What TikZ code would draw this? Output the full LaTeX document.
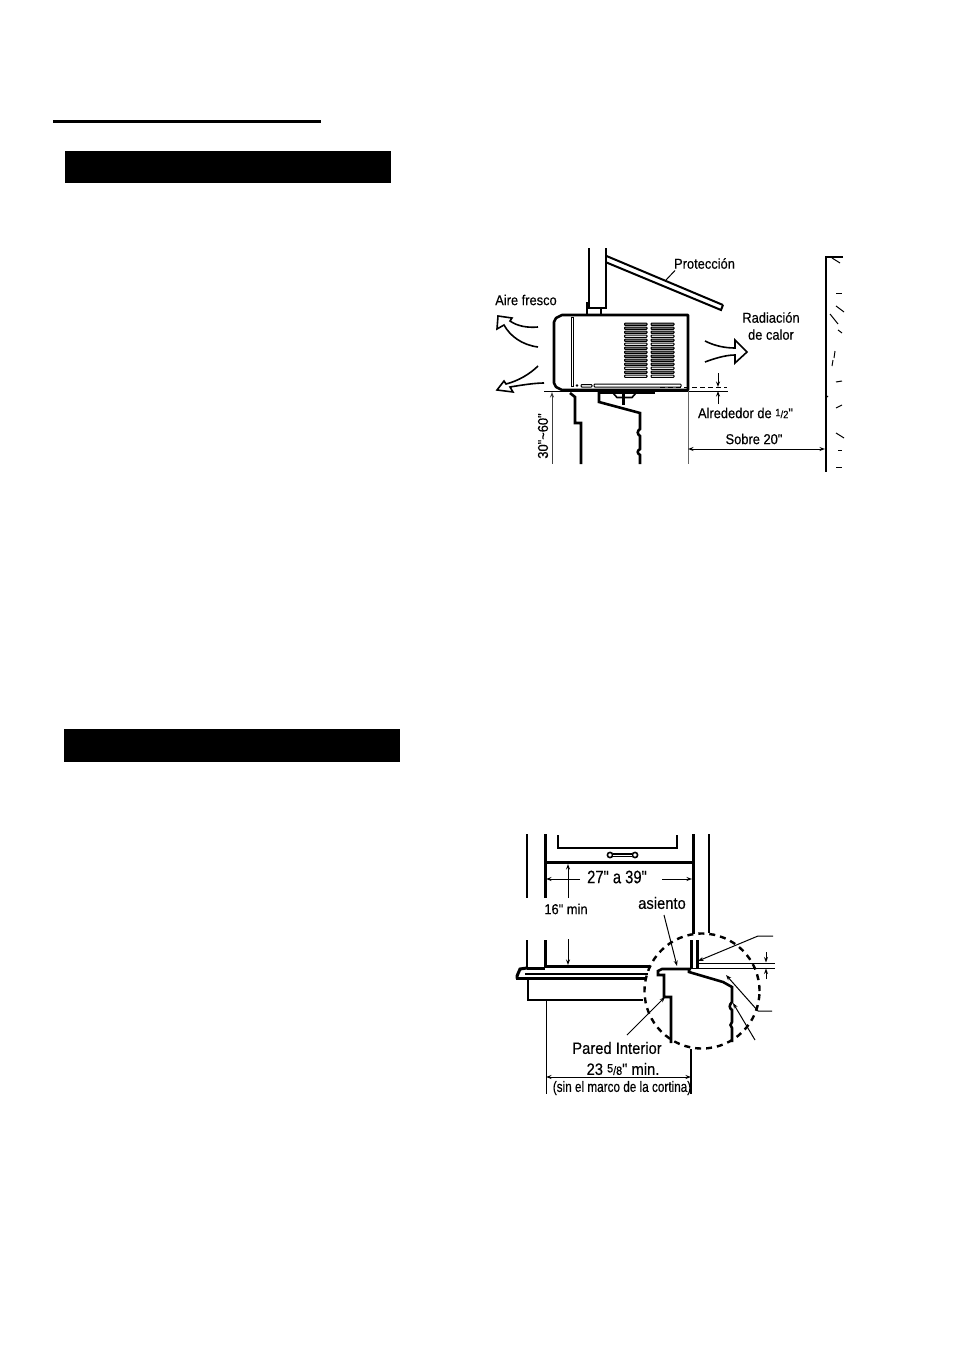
\documentclass[tikz,border=0pt]{standalone}
\usepackage{fontspec}
\setmainfont[FakeStretch=0.9,FakeBold=0.35,Ligatures=TeXOff]{Liberation Sans}
\usetikzlibrary{arrows.meta}
\tikzset{
 blackbar/.style={fill=black,draw=none},
 thick line/.style={line width=2.6pt,line join=miter},
 mid line/.style={line width=1.6pt},
 thin line/.style={line width=1pt},
 dim/.style={line width=1pt,-{Stealth[length=5.5pt,width=4pt]}},
 dim rev/.style={line width=1pt,{Stealth[length=5.5pt,width=4pt]}-},
 dim both/.style={line width=1pt,{Stealth[length=5.5pt,width=4pt]}-{Stealth[length=5.5pt,width=4pt]}},
 lab/.style={inner sep=0pt,font=\fontsize{14.3}{16}\selectfont,align=center},
 bigl/.style={inner sep=0pt,font=\fontsize{16.4}{18}\selectfont,align=center},
 hollow/.style={line width=1.6pt,line join=miter},
 slot/.style={line width=1pt,fill=black!50,rounded corners=0.8pt},
 slotw/.style={line width=1pt,fill=white,rounded corners=0.8pt}
}
\begin{document}
\begin{tikzpicture}[x=1pt,y=-1pt]
\useasboundingbox (0,0) rectangle (954,1351);
\fill[white] (0,0) rectangle (954,1351);
% header
\draw[line width=3pt] (53,122) -- (321,122);
\fill[blackbar] (65,151) rectangle (391,183);
\fill[blackbar] (64,729) rectangle (400,762);
%%%%%% Diagram 1
% pillar
\draw[thick line] (589,248) -- (589,308) -- (606,308) -- (606,248);
\draw[mid line] (587,315) -- (587,303) -- (589,303);
\draw[mid line] (601,308) -- (601,315);
% shield
\draw[line width=2pt] (606.5,256) -- (723,305);
\draw[line width=2pt] (723,305) -- (721,310) -- (606.5,262.5);
\draw[thin line] (675,270.5) -- (666,280);
% unit
\draw[thick line,fill=white,line join=round] (562,315) -- (688,315) -- (688,390) -- (562,390) -- (556,387) -- (554,383) -- (554,322) -- (556,318) -- cycle;
\draw[line width=0.9pt,fill=white] (571,317) rectangle (573,386);
% grilles
\foreach \yy/\st in {323/slot,327/slot,331/slot,335/slotw,339/slot,343/slotw,347/slot,351/slot,355/slot,359/slot,363/slot,367/slotw,371/slot,375/slotw}{
  \draw[\st] (624.5,\yy) rectangle (647,\yy+2.4);
  \draw[\st] (651,\yy) rectangle (674,\yy+2.4);
}
% bottom slits
\fill (577,385.5) circle (1.3pt);
\draw[line width=1pt,rounded corners=0.8pt] (581,384.5) rectangle (592,387);
\draw[line width=1pt,rounded corners=0.8pt] (594,384) rectangle (681,387);
% baseline & dims
\draw[thin line] (544,391) -- (728,391);
\draw[line width=1pt,dash pattern=on 5pt off 3pt] (660,387.5) -- (727,387.5);
\draw[dim] (718,373) -- (718,387);
\draw[dim] (718,404) -- (718,391);
\draw[line width=0.9pt,black!60] (688,391) -- (688,464);
\draw[dim both] (688,449) -- (825,449);
\draw[dim rev,black!75] (552,392) -- (552,464);
% wall
\draw[thick line] (843,257) -- (826,257) -- (826,472);
\foreach \a/\b/\c/\d in {832/258/840/263,836/293/842/293,836/306/844/312,830/314/838/324,838/330/842/333,835/351/834/358,833/360/832/366,836/382/842/381,836/408/842/405,828/396/826/398,836/433/844/438,838/450/842/450,836/467/842/467}{
  \draw[thin line] (\a,\b) -- (\c,\d);
}
% wall section below unit
\draw[thick line] (570,393) -- (575,397) -- (575,423) -- (581,423) -- (581,464);
\draw[thick line] (599,392) -- (599,402) -- (640,413) -- (640,429) .. controls (637,431) and (637,434) .. (640,436) -- (640,449) .. controls (637,451) and (637,453) .. (640,455) -- (640,464);
\draw[thick line] (598,392.5) -- (655,392.5);
\draw[mid line] (613,393) -- (617,397.5) -- (632,397.5) -- (636,393);
\draw[line width=3pt] (623,394) -- (623,405);
% arrows left upper
\draw[hollow] (538,327) .. controls (527,328) and (517,326) .. (510,321) -- (512,318) -- (498,316) -- (497,329) -- (504,325) .. controls (510,336) and (522,345) .. (538,347);
% arrows left lower
\draw[hollow] (538,366) .. controls (530,374) and (518,381) .. (506,384) -- (504,381) -- (497,390) -- (513,392) -- (510,387) .. controls (522,385) and (535,383) .. (544,383);
% arrow right
\draw[hollow] (705,341) .. controls (715,346) and (725,348) .. (735,348) -- (735,340) -- (747,352) -- (735,363) -- (735,355) .. controls (725,355) and (713,359) .. (705,362);
% labels 1
\node[lab] (prot) at (704.5,263.5) {Protección};
\node[lab] (aire) at (526,300) {Aire fresco};
\node[lab] (rad) at (771,326) {Radiación\\[1pt]de calor};
\node[lab] (alre) at (745.5,413) {Alrededor de {\fontsize{10.5}{10}\selectfont\raisebox{2pt}{1}/2}"};
\node[lab] (sobre) at (754,439) {Sobre 20"};
\node[lab,rotate=90] (h) at (543,436) {30"\textasciitilde60"};
%%%%%% Diagram 2
% walls
\draw[line width=2.2pt] (527,834) -- (527,898);
\draw[line width=3pt] (545,834) -- (545,898);
\draw[line width=2.2pt] (527,940) -- (527,969);
\draw[line width=3pt] (545,940) -- (545,968);
\draw[line width=3pt] (693,834) -- (693,934);
\draw[line width=2.2pt] (709,834) -- (709,933);
% sash
\draw[mid line] (558,835) -- (558,848) -- (677,848) -- (677,835);
\draw[line width=3pt] (545,862) -- (693,862);
% handle
\draw[mid line] (610,855) circle (2.6pt);
\draw[mid line] (635,855) circle (2.6pt);
\draw[line width=3.4pt] (612.6,855) -- (632.4,855);
\draw[white,line width=1pt] (613,855) -- (632,855);
% dims
\draw[dim] (580,879) -- (546,879);
\draw[dim] (662,879) -- (692,879);
\draw[dim] (568,898) -- (568,864);
\draw[dim] (568,939) -- (568,965);
% sill
\draw[line width=3pt] (527,968) -- (520,969) -- (517,976) -- (517,978.5);
\draw[line width=3pt] (527,968) -- (545,968);
\draw[line width=3pt] (545,966.5) -- (650,966.5);
\draw[line width=2.4pt] (516,978.5) -- (646,978.5);
\draw[line width=1.6pt] (525,974) -- (648,974);
\draw[line width=2.6pt] (528,979) -- (528,1000) -- (643,1000);
% circle
\draw[line width=2.4pt,dash pattern=on 6pt off 5pt] (702,991) circle (57.5pt);
% inside detail
\draw[line width=3pt] (691,940) -- (691,969);
\draw[line width=3pt] (697,940) -- (697,969);
\draw[thick line] (691,969) -- (662,969) -- (658,971) -- (658,975) -- (664,975) -- (664,997) -- (671,997) -- (671,1043);
\draw[thick line] (689,969) -- (689,972) -- (723,982) -- (732,987) -- (732,1002) .. controls (729,1005) and (729,1008) .. (732,1010) -- (732,1022) .. controls (730,1024) and (730,1026) .. (732,1028) -- (732,1042);
\draw[thin line] (697,963) -- (775,963);
\draw[thin line] (691,968) -- (775,968);
\draw[dim] (766,952) -- (766,962.5);
\draw[dim] (766,979) -- (766,968.5);
% leaders
\draw[dim] (773,936) -- (758,936) -- (698,961);
\draw[dim] (772,1011) -- (758,1011) -- (726,975);
\draw[dim] (755,1040) -- (733,1003);
\draw[dim] (627,1035) -- (665,997);
\draw[dim] (664,915) -- (677,966);
% lower dims
\draw[thin line] (546,1000) -- (546,1094);
\draw[mid line] (691,1049) -- (691,1094);
\draw[dim both] (546,1077) -- (691,1077);
% labels 2
\node[bigl,font=\fontsize{18}{20}\selectfont,xscale=0.91] (w) at (617,877) {27" a 39"};
\node[lab] (m) at (566,909) {16" min};
\node[bigl] (as) at (662,903) {asiento};
\node[bigl] (pi) at (617,1048) {Pared Interior};
\node[bigl] (mn) at (623,1069) {23 {\fontsize{12}{12}\selectfont\raisebox{2.5pt}{5}/8}" min.};
\node[lab,font=\fontsize{15}{17}\selectfont,xscale=0.87] (sin) at (622,1088) {(sin el marco de la cortina)};
\end{tikzpicture}
\end{document}
